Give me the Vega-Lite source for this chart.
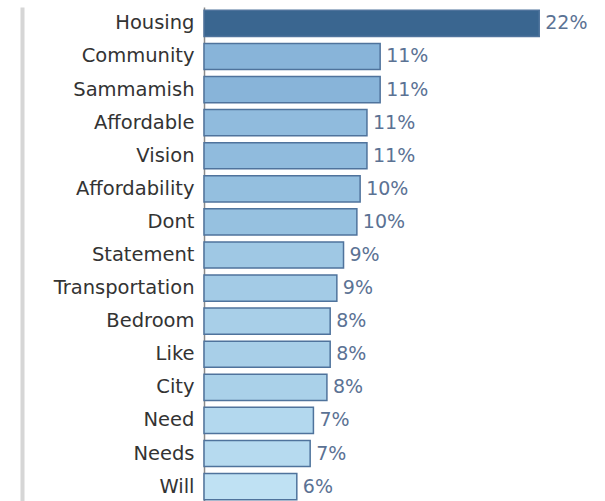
{
  "$schema": "https://vega.github.io/schema/vega-lite/v6.json",
  "width": 388,
  "height": 496,
  "autosize": "none",
  "padding": {"left": 204, "top": 7, "right": 13, "bottom": 0},
  "background": "white",
  "config": {"view": {"stroke": null}},
  "data": {
    "values": [
      {"word": "Housing", "share": 0.216},
      {"word": "Community", "share": 0.1135},
      {"word": "Sammamish", "share": 0.1135},
      {"word": "Affordable", "share": 0.105},
      {"word": "Vision", "share": 0.105},
      {"word": "Affordability", "share": 0.1006},
      {"word": "Dont", "share": 0.0985},
      {"word": "Statement", "share": 0.0899},
      {"word": "Transportation", "share": 0.0856},
      {"word": "Bedroom", "share": 0.0813},
      {"word": "Like", "share": 0.0813},
      {"word": "City", "share": 0.0792},
      {"word": "Need", "share": 0.0705},
      {"word": "Needs", "share": 0.0684},
      {"word": "Will", "share": 0.0598}
    ]
  },
  "encoding": {
    "y": {
      "field": "word",
      "type": "nominal",
      "sort": ["Housing","Community","Sammamish","Affordable","Vision","Affordability","Dont","Statement","Transportation","Bedroom","Like","City","Need","Needs","Will"],
      "scale": {"paddingInner": 0.21, "paddingOuter": 0.1},
      "axis": null
    },
    "x": {
      "field": "share",
      "type": "quantitative",
      "scale": {"domain": [0, 0.25], "nice": false},
      "axis": null
    }
  },
  "layer": [
    {
      "mark": {"type": "bar", "stroke": "#4f739c", "strokeWidth": 1.5},
      "encoding": {
        "color": {
          "field": "share",
          "type": "quantitative",
          "scale": {"domain": [0.0598, 0.1135, 0.216], "range": ["#bfe1f3", "#88b4d9", "#3a6690"]},
          "legend": null
        },
        "y": {
          "field": "word",
          "type": "nominal",
          "sort": ["Housing","Community","Sammamish","Affordable","Vision","Affordability","Dont","Statement","Transportation","Bedroom","Like","City","Need","Needs","Will"],
          "title": null,
          "axis": {
            "orient": "left",
            "labelFont": "DejaVu Sans",
            "labelFontSize": 19.5,
            "labelColor": "#333333",
            "labelPadding": 10,
            "ticks": false,
            "domainColor": "#8a8a8a",
            "domainWidth": 1.5,
            "grid": false
          }
        }
      }
    },
    {
      "mark": {"type": "text", "align": "left", "baseline": "middle", "dx": 6, "font": "DejaVu Sans", "fontSize": 19, "color": "#5b7294"},
      "encoding": {
        "text": {"field": "share", "type": "quantitative", "format": ".0%"}
      }
    },
    {
      "mark": {"type": "bar", "opacity": 0},
      "encoding": {
        "y": {
          "field": "word",
          "type": "nominal",
          "sort": ["Housing","Community","Sammamish","Affordable","Vision","Affordability","Dont","Statement","Transportation","Bedroom","Like","City","Need","Needs","Will"],
          "title": null,
          "axis": {
            "orient": "left",
            "labels": false,
            "ticks": false,
            "grid": false,
            "domainColor": "#d6d6d6",
            "domainWidth": 4,
            "offset": 182
          }
        }
      }
    }
  ],
  "resolve": {"axis": {"y": "independent"}}
}
